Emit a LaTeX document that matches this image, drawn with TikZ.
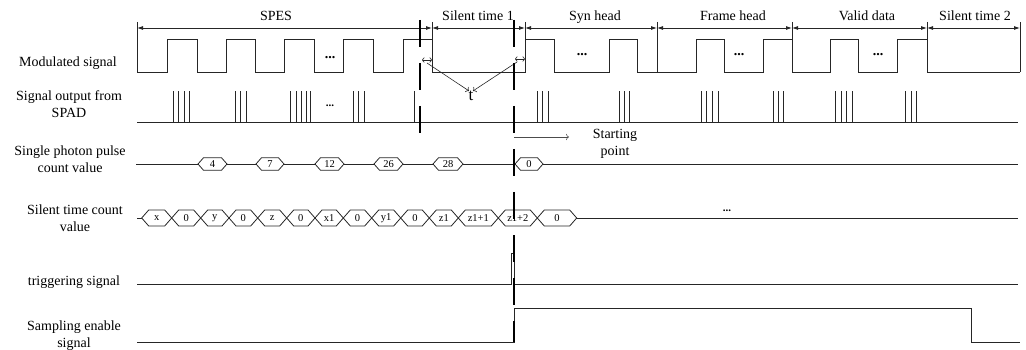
\documentclass[tikz,border=0pt]{standalone}
\usepackage{fontspec}
\setmainfont{Liberation Serif}
\usetikzlibrary{arrows.meta}

\begin{document}
\begin{tikzpicture}[x=1pt,y=-1pt,>={Latex[length=6pt,width=4pt]},
                    sig/.style={line width=0.8pt,black!85},
                    cut/.style={line width=1.8pt,black,dash pattern=on 27pt off 16pt},
                    lbl/.style={inner sep=1pt,align=center,font=\fontsize{14}{17}\selectfont},
                    hexlbl/.style={inner sep=0pt,font=\fontsize{10.5}{12}\selectfont},
                    dots/.style={inner sep=0pt,font=\fontsize{14}{14}\selectfont\bfseries}]
  \useasboundingbox (0,0) rectangle (1026,350);

  % row names
  \node[lbl] (modname)  at (68,63)  {Modulated signal};
  \node[lbl] (spadname) at (69,104) {Signal output from\\SPAD};
  \node[lbl] (cntname)  at (70,159) {Single photon pulse\\count value};
  \node[lbl] (silname)  at (75,218) {Silent time count\\value};
  \node[lbl] (trgname)  at (74,282) {triggering signal};
  \node[lbl] (smpname)  at (74,336) {Sampling enable\\signal};

  % segments of the frame
  \foreach \x in {137,432,525,657,792,927,1020}
    \draw[sig] (\x,22) -- (\x,72);
  \foreach \a/\b/\m/\txt [count=\i] in {137/432/276/SPES,432/525/478/Silent time 1,
      525/657/595/Syn head,657/792/733/Frame head,792/927/867/Valid data,
      927/1020/975/Silent time 2}{
    \draw[sig,<->] (\a,28) -- (\b,28);
    \node[lbl,anchor=base] (seg\i) at (\m,21) {\txt};
  }

  % modulated signal
  \draw[sig] (137,72)
    \foreach \a/\b in {167/197,226/255,284/314,343/373,403/432,525/554,609/637,
                       696/724,763/792,830/858,897/927}{
      -- (\a,72) -- (\a,39) -- (\b,39) -- (\b,72)
    } -- (1020,72);
  \node[dots] (moddots1) at (330,58) {...};
  \node[dots] (moddots2) at (582,55) {...};
  \node[dots] (moddots3) at (739,55) {...};
  \node[dots] (moddots4) at (878,55) {...};

  % photon pulses from the SPAD
  \draw[sig] (137,122) -- (1018,122);
  \foreach \x in {173,178,184,189,235,240,246,290,296,301,306,310,353,358,364,414,
                  537,542,548,619,624,629,701,706,712,718,773,778,783,
                  835,841,846,852,905,911,916}
    \draw[sig] (\x,122) -- (\x,91);
  \node[dots,font=\fontsize{11}{11}\selectfont\bfseries] (spaddots) at (330,106) {...};

  % t marks
  \draw[sig,line width=0.6pt,{To[length=2.5pt]}-{To[length=2.5pt]}] (422,60) -- (432,60);
  \draw[sig,line width=0.6pt,{To[length=2.5pt]}-{To[length=2.5pt]}] (515,59) -- (525,59);
  \node[lbl,font=\fontsize{17}{17}\selectfont] (t) at (471,96) {t};
  \coordinate (tl) at (427,63);
  \coordinate (tr) at (517,62);
  \draw[sig,line width=0.6pt,-{To}] (tl) -- ([xshift=-2pt,yshift=-1pt]t.north);
  \draw[sig,line width=0.6pt,-{To}] (tr) -- ([xshift=2pt,yshift=-1pt]t.north);

  % starting point
  \coordinate (sp) at (514,137);
  \coordinate (spend) at (569,137);
  \draw[black!70,line width=0.6pt,-{To}] (sp) -- (spend);
  \node[lbl] (start) at (615,144) {Starting\\point};

  % single photon pulse count
  \draw[sig] (136,164) -- (1018,164);
  \foreach \a/\b/\v [count=\i] in {198/227/4,256/284/7,315/344/12,374/403/26,433/463/28,515/543/0}{
    \draw[sig,fill=white] (\a,164) -- (\a+5.5,157.75) -- (\b-5.5,157.75) -- (\b,164)
      -- (\b-5.5,170.25) -- (\a+5.5,170.25) -- cycle;
    \node[hexlbl] (cnt\i) at ({(\a+\b)/2},164) {\v};
  }

  % silent time count
  \draw[sig] (137,218) -- (1018,218);
  \foreach \a/\b/\v [count=\i] in {141.7/171.7/x,171.7/200.7/0,200.7/229/y,229/257.7/0,
      257.7/286.7/z,286.7/315/0,315/343.3/x1,343.3/371.7/0,371.7/400.7/y1,400.7/429.3/0,
      429.3/458.3/z1,458.3/498.3/z1+1,498.3/537.3/z1+2,537.3/576.7/0}{
    \draw[sig,fill=white] (\a,218) -- (\a+7,210) -- (\b-7,210) -- (\b,218)
      -- (\b-7,226) -- (\a+7,226) -- cycle;
    \node[hexlbl] (sil\i) at ({(\a+\b)/2},218) {\v};
  }
  \node[dots,font=\fontsize{11}{11}\selectfont\bfseries] (sildots) at (727,211) {...};

  % triggering and sampling enable
  \draw[sig] (137,284) -- (511.5,284) -- (511.5,253) -- (514,253) -- (514,284) -- (1018,284);
  \draw[sig] (137,342) -- (514,342) -- (514,308) -- (971,308) -- (971,342) -- (1020,342);

  % cut lines
  \draw[cut] (420,20) -- (420,133);
  \draw[cut] (514,20) -- (514,342);
\end{tikzpicture}
\end{document}
